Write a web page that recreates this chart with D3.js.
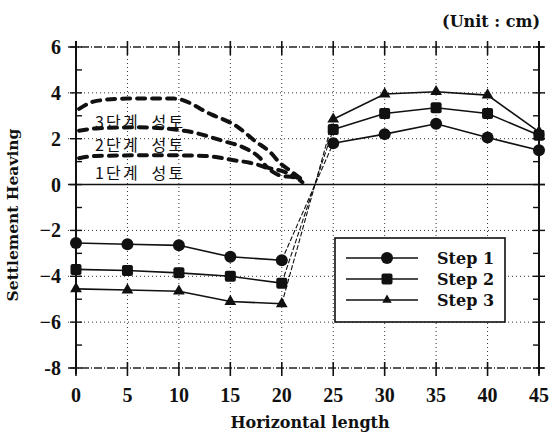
<!DOCTYPE html>
<html>
<head>
<meta charset="utf-8">
<script src="https://cdn.jsdelivr.net/npm/d3@7"></script>
<style>
  body { margin: 0; background: #fff; }
  text { font-family: "DejaVu Serif", "Liberation Serif", serif; font-weight: bold; fill: #111; }
  .num { font-family: "Liberation Serif", serif; }
  .kor { font-family: "Noto Sans CJK KR", sans-serif; font-weight: normal; white-space: pre; }
</style>
</head>
<body>
<svg id="chart" width="552" height="437"></svg>
<script>
// x positions (m) and settlement/heaving values (cm)
var xValues = [0, 5, 10, 15, 20, 25, 30, 35, 40, 45];
var step1 = [-2.55, -2.6, -2.65, -3.15, -3.3, 1.8, 2.2, 2.65, 2.05, 1.5];
var step2 = [-3.7, -3.75, -3.85, -4.0, -4.3, 2.4, 3.1, 3.35, 3.1, 2.15];
var step3 = [-4.55, -4.6, -4.65, -5.1, -5.2, 2.85, 3.95, 4.05, 3.9, 2.3];
var seriesNames = ['Step 1', 'Step 2', 'Step 3'];
var xTicks = [0, 5, 10, 15, 20, 25, 30, 35, 40, 45];
var yTicks = [6, 4, 2, 0, -2, -4, -6, -8];
var yTickLabels = ['6', '4', '2', '0', '\u22122', '\u22124', '\u22126', '-8'];

// hand-drawn fill stage curves (x, y)
var fillCurve3 = [[0.3, 3.3], [2, 3.65], [5, 3.75], [9.5, 3.75], [13.2, 3.05], [15.6, 2.55], [17.4, 1.9], [18.9, 1.4], [19.8, 0.95], [21, 0.55], [22, 0.2]];
var fillCurve2 = [[0.3, 2.35], [2, 2.45], [6, 2.5], [10.5, 2.35], [14.3, 1.9], [16.6, 1.55], [17.9, 1.15], [18.6, 0.75], [20, 0.6], [21.5, 0.3]];
var fillCurve1 = [[0.3, 1.15], [2, 1.25], [8, 1.28], [12.5, 1.25], [15.5, 1.05], [16.9, 0.95], [18.4, 0.75], [19.8, 0.4], [21.3, 0.3], [22, 0.1]];
var fillLabels = ['3단계  성토', '2단계  성토', '1단계  성토'];
var fillLabelY = [2.79, 1.79, 0.57];

var svg = d3.select('#chart');
var x = d3.scaleLinear().domain([0, 45]).range([76, 539]);
var y = d3.scaleLinear().domain([-8, 6]).range([368, 47]);

// grid lines
var grid = svg.append('g');
grid.selectAll('.vgrid')
    .data(xTicks.slice(1, -1))
    .enter().append('line')
    .attr('x1', function(d) { return x(d); })
    .attr('x2', function(d) { return x(d); })
    .attr('y1', y(6)).attr('y2', y(-8))
    .attr('stroke', '#333').attr('stroke-width', 1)
    .attr('stroke-dasharray', '1,3');
grid.selectAll('.hgrid')
    .data([4, 2, -2, -4, -6])
    .enter().append('line')
    .attr('x1', x(0) - 8).attr('x2', x(45) + 6)
    .attr('y1', function(d) { return y(d); })
    .attr('y2', function(d) { return y(d); })
    .attr('stroke', '#333').attr('stroke-width', 1)
    .attr('stroke-dasharray', '1,3');
// top and bottom borders, dash-dot
grid.selectAll('.border')
    .data([6, -8])
    .enter().append('line')
    .attr('x1', x(0) - 8).attr('x2', x(45) + 6)
    .attr('y1', function(d) { return y(d); })
    .attr('y2', function(d) { return y(d); })
    .attr('stroke', '#222').attr('stroke-width', 1.3)
    .attr('stroke-dasharray', '8,2,1,2');
// zero line
svg.append('line')
    .attr('x1', x(0) - 8).attr('x2', x(45) + 6)
    .attr('y1', y(0)).attr('y2', y(0))
    .attr('stroke', '#111').attr('stroke-width', 1.5);
// left and right axes
svg.selectAll('.vaxis')
    .data([0, 45])
    .enter().append('line')
    .attr('x1', function(d) { return x(d); })
    .attr('x2', function(d) { return x(d); })
    .attr('y1', y(6) - 6).attr('y2', y(-8) + 6)
    .attr('stroke', '#111').attr('stroke-width', 2);

// major x ticks top & bottom
xTicks.forEach(function(t) {
    [6, -8].forEach(function(v) {
        svg.append('line')
            .attr('x1', x(t)).attr('x2', x(t))
            .attr('y1', y(v) - 6).attr('y2', y(v) + 8)
            .attr('stroke', '#111').attr('stroke-width', 1.6);
    });
});
// major y ticks
yTicks.forEach(function(t) {
    svg.append('line')
        .attr('x1', x(0) - 6).attr('x2', x(0) + 6)
        .attr('y1', y(t)).attr('y2', y(t))
        .attr('stroke', '#111').attr('stroke-width', 1.4);
    svg.append('line')
        .attr('x1', x(45) - 6).attr('x2', x(45) + 6)
        .attr('y1', y(t)).attr('y2', y(t))
        .attr('stroke', '#111').attr('stroke-width', 1.4);
});
// minor y ticks
d3.range(-7, 6, 2).forEach(function(t) {
    svg.append('line')
        .attr('x1', x(0)).attr('x2', x(0) + 6)
        .attr('y1', y(t)).attr('y2', y(t))
        .attr('stroke', '#111').attr('stroke-width', 1.4);
    svg.append('line')
        .attr('x1', x(45) - 6).attr('x2', x(45))
        .attr('y1', y(t)).attr('y2', y(t))
        .attr('stroke', '#111').attr('stroke-width', 1.4);
});

// tick labels
svg.selectAll('.xlab')
    .data(xTicks)
    .enter().append('text')
    .attr('class', 'num')
    .attr('x', function(d) { return x(d); })
    .attr('y', 402)
    .attr('text-anchor', 'middle')
    .attr('font-size', 20)
    .text(function(d) { return d; });
svg.selectAll('.ylab')
    .data(yTicks)
    .enter().append('text')
    .attr('class', 'num')
    .attr('x', 61)
    .attr('y', function(d) { return y(d) + 7; })
    .attr('text-anchor', 'end')
    .attr('font-size', 20)
    .text(function(d, i) { return yTickLabels[i]; });

// axis titles
svg.append('text')
    .attr('x', 310).attr('y', 428)
    .attr('text-anchor', 'middle')
    .attr('font-size', 16)
    .text('Horizontal length');
svg.append('text')
    .attr('transform', 'translate(18,215) rotate(-90)')
    .attr('text-anchor', 'middle')
    .attr('font-size', 15.5)
    .text('Settlement Heaving');
svg.append('text')
    .attr('x', 540).attr('y', 27)
    .attr('text-anchor', 'end')
    .attr('font-size', 16)
    .text('(Unit : cm)');

// fill stage dashed curves
var curveLine = d3.line()
    .x(function(d) { return x(d[0]); })
    .y(function(d) { return y(d[1]); })
    .curve(d3.curveMonotoneX);
svg.selectAll('.fill')
    .data([fillCurve3, fillCurve2, fillCurve1])
    .enter().append('path')
    .attr('d', curveLine)
    .attr('fill', 'none')
    .attr('stroke', '#111')
    .attr('stroke-width', 4)
    .attr('stroke-linecap', 'round')
    .attr('stroke-dasharray', '8,7');
svg.selectAll('.filllab')
    .data(fillLabels)
    .enter().append('text')
    .attr('class', 'kor')
    .attr('x', 95)
    .attr('y', function(d, i) { return y(fillLabelY[i]) + 7; })
    .attr('font-size', 16)
    .attr('letter-spacing', 2.2)
    .text(function(d) { return d; });

// series
var allSeries = [step1, step2, step3];
var line = d3.line()
    .x(function(d) { return x(d[0]); })
    .y(function(d) { return y(d[1]); });

function drawMarker(g, type, cx, cy, s) {
    s = s || 1;
    if (type === 0) {
        g.append('circle').attr('cx', cx).attr('cy', cy).attr('r', 6 * s).attr('fill', '#111');
    } else if (type === 1) {
        g.append('rect').attr('x', cx - 5.5 * s).attr('y', cy - 5.5 * s)
            .attr('width', 11 * s).attr('height', 11 * s)
            .attr('rx', 2).attr('fill', '#111');
    } else {
        g.append('path')
            .attr('d', d3.symbol().type(d3.symbolTriangle).size(60 * s * s)())
            .attr('transform', 'translate(' + cx + ',' + cy + ')')
            .attr('fill', '#111');
    }
}

allSeries.forEach(function(vals, si) {
    var pts = xValues.map(function(xv, i) { return [xv, vals[i]]; });
    var g = svg.append('g');
    g.append('path')
        .attr('d', line(pts.slice(0, 5)))
        .attr('fill', 'none').attr('stroke', '#111').attr('stroke-width', 1.6);
    g.append('path')
        .attr('d', line(pts.slice(5)))
        .attr('fill', 'none').attr('stroke', '#111').attr('stroke-width', 1.6);
    g.append('path')
        .attr('d', line(pts.slice(4, 6)))
        .attr('fill', 'none').attr('stroke', '#111').attr('stroke-width', 1.1)
        .attr('stroke-dasharray', '5,2');
    pts.forEach(function(p) {
        drawMarker(g, si, x(p[0]), y(p[1]));
    });
});

// legend
var legend = svg.append('g');
legend.append('rect')
    .attr('x', 335).attr('y', 238).attr('width', 170).attr('height', 84)
    .attr('fill', '#fff').attr('stroke', '#111').attr('stroke-width', 1.6);
seriesNames.forEach(function(name, i) {
    var ly = 258 + i * 21;
    legend.append('line')
        .attr('x1', 346).attr('x2', 418).attr('y1', ly).attr('y2', ly)
        .attr('stroke', '#111').attr('stroke-width', 1.4);
    drawMarker(legend, i, 387, ly, i === 2 ? 0.8 : 1);
    legend.append('text')
        .attr('x', 437).attr('y', ly + 6)
        .attr('font-size', 16)
        .text(name);
});
</script>
</body>
</html>
